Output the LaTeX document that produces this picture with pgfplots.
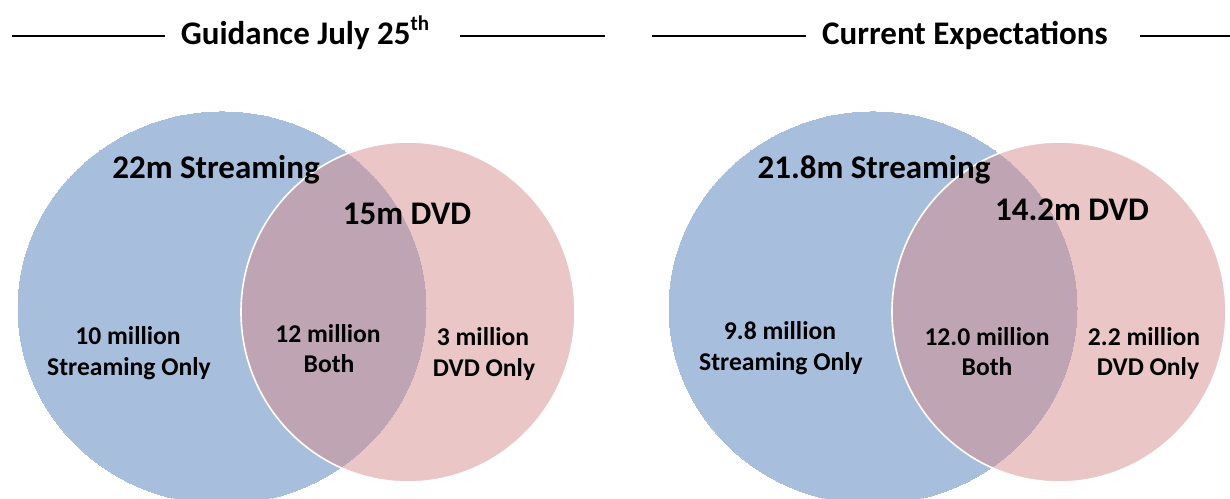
\documentclass[border=0pt]{standalone}
\usepackage{pgfplots}
\pgfplotsset{compat=1.18}
\usepackage{fontspec}
\setmainfont{Carlito}
\definecolor{blueC}{RGB}{167,191,221}
\definecolor{pinkP}{RGB}{215,141,141}
\begin{document}
\begin{tikzpicture}
\begin{axis}[x=0.5pt,y=0.5pt,y dir=reverse,
  xmin=0,xmax=1230,ymin=0,ymax=498,
  hide axis, clip=true, clip marker paths=true]
% Streaming circles
\addplot[blueC, only marks, mark=*, mark size=102pt,
  mark options={solid, yscale=0.961, fill=blueC, draw=blueC, line width=0pt}]
  coordinates {(222,308) (873,308)};
% DVD circles
\addplot[white, only marks, mark=*, mark size=83.5pt,
  mark options={solid, yscale=1.018, fill=pinkP, fill opacity=0.5, draw=white, draw opacity=1, line width=0.8pt}]
  coordinates {(408,312) (1059,312)};
% title rules
\addplot[black, line width=1.4pt] coordinates {(12,36) (165,36)};
\addplot[black, line width=1.4pt] coordinates {(460,36) (605,36)};
\addplot[black, line width=1.4pt] coordinates {(652,36) (806,36)};
\addplot[black, line width=1.4pt] coordinates {(1140,36) (1230,36)};
% titles
\begin{scope}[every node/.style={anchor=base, font=\bfseries\fontsize{16.5}{20}\selectfont}]
\node at (axis cs:305,44) {Guidance July 25\raisebox{0.42em}{\fontsize{10.5}{12}\selectfont th}};
\node at (axis cs:965,44) {Current Expectations};
\node at (axis cs:216,178) {22m Streaming};
\node at (axis cs:407,224) {15m DVD};
\node at (axis cs:874,178) {21.8m Streaming};
\node at (axis cs:1072,220) {14.2m DVD};
\end{scope}
\begin{scope}[every node/.style={anchor=base, font=\bfseries\fontsize{12.8}{15}\selectfont}]
\node at (axis cs:128,344) {10 million};
\node at (axis cs:129,375) {Streaming Only};
\node at (axis cs:328,342) {12 million};
\node at (axis cs:329,372) {Both};
\node at (axis cs:483,345) {3 million};
\node at (axis cs:484,376) {DVD Only};
\node at (axis cs:780,339) {9.8 million};
\node at (axis cs:781,370) {Streaming Only};
\node at (axis cs:987,345) {12.0 million};
\node at (axis cs:987,375) {Both};
\node at (axis cs:1144,345) {2.2 million};
\node at (axis cs:1148,375) {DVD Only};
\end{scope}
\end{axis}
\pgfresetboundingbox
\path (current axis.south west) rectangle (current axis.north east);
\end{tikzpicture}
\end{document}
